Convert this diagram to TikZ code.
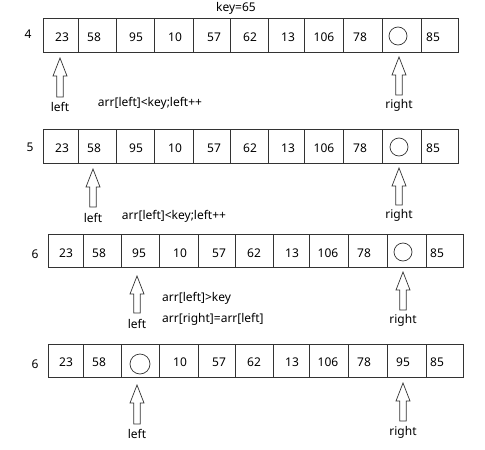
\documentclass[tikz,border=0pt]{standalone}
\usepackage{fontspec}
\setmainfont{Noto Sans}
\newcommand{\hollowup}[3]{%
  \draw[ptr] (#1,#2) -- (#1+7,#2+18) -- (#1+3.3,#2+18) -- (#1+3.3,#3)
    -- (#1-3.3,#3) -- (#1-3.3,#2+18) -- (#1-7,#2+18) -- cycle;}
\begin{document}
\begin{tikzpicture}[x=1pt,y=-1pt,
  cell/.style={draw=black!80, line width=0.8pt, minimum height=34, inner sep=0, anchor=west},
  val/.style={font=\fontsize{12}{14}\selectfont, inner sep=0},
  lbl/.style={font=\fontsize{12}{14}\selectfont, inner sep=0},
  ptr/.style={draw=black!80, line width=0.7pt, fill=white, line join=miter},
  hole/.style={draw=black!80, line width=0.7pt, circle, minimum size=18, inner sep=0}]
\useasboundingbox (0,0) rectangle (485,450);

\node[lbl] (key) at (236,8) {key=65};

% ---------- row 1 ----------
\node[lbl] (n1) at (28,34) {4};
\foreach \l/\r [count=\i] in {43/78,78/116,116/154,154/193,193/230,230/268,268/304,304/343,343/382,382/421,421/458}
  \node[cell, minimum width={\r-\l}] (a\i) at (\l,35) {};
\foreach \t/\x [count=\i] in {23/62,58/94,95/136,10/175,57/214,62/250,13/288,106/324,78/360,85/433}
  \node[val] (av\i) at (\x,37) {\t};
\node[hole] (ah) at (398,36) {};
\hollowup{60}{58}{97}
\hollowup{399}{57}{95}
\node[lbl] (al) at (60,107) {left};
\node[lbl] (ar) at (399,105) {right};
\node[lbl] (ac) at (150,103) {arr[left]<key;left++};

% ---------- row 2 ----------
\node[lbl] (n2) at (30,147) {5};
\foreach \l/\r [count=\i] in {43/78,78/116,116/154,154/193,193/230,230/268,268/304,304/343,343/382,382/421,421/458}
  \node[cell, minimum width={\r-\l}] (b\i) at (\l,146) {};
\foreach \t/\x [count=\i] in {23/62,58/94,95/136,10/175,57/214,62/250,13/288,106/324,78/360,85/433}
  \node[val] (bv\i) at (\x,148) {\t};
\node[hole] (bh) at (399,147) {};
\hollowup{93}{169}{207}
\hollowup{399}{168}{205}
\node[lbl] (bl) at (93,218) {left};
\node[lbl] (br) at (399,215) {right};
\node[lbl] (bc) at (174,216) {arr[left]<key;left++};

% ---------- row 3 ----------
\node[lbl] (n3) at (35,254) {6};
\foreach \l/\r [count=\i] in {47.5/82.5,82.5/120.5,120.5/158.5,158.5/197.5,197.5/234.5,234.5/272.5,272.5/308.5,308.5/347.5,347.5/386.5,386.5/425.5,425.5/462.5}
  \node[cell, minimum width={\r-\l}, minimum height=33] (c\i) at (\l,250.5) {};
\foreach \t/\x [count=\i] in {23/66,58/99,95/139,10/180,57/219,62/254,13/292,106/328,78/364,85/437}
  \node[val] (cv\i) at (\x,253) {\t};
\node[hole] (ch) at (403,252) {};
\hollowup{137}{276}{313}
\hollowup{403}{272}{310}
\node[lbl] (cl) at (137,324) {left};
\node[lbl] (cr) at (403,320) {right};
\node[lbl, anchor=west] (cc1) at (162,298) {arr[left]>key};
\node[lbl, anchor=west] (cc2) at (162,319) {arr[right]=arr[left]};

% ---------- row 4 ----------
\node[lbl] (n4) at (35,364) {6};
\foreach \l/\r [count=\i] in {47.5/82.5,82.5/120.5,120.5/158.5,158.5/197.5,197.5/234.5,234.5/272.5,272.5/308.5,308.5/347.5,347.5/386.5,386.5/425.5,425.5/462.5}
  \node[cell, minimum width={\r-\l}, minimum height=33] (d\i) at (\l,360.5) {};
\foreach \t/\x [count=\i] in {23/66,58/99,10/180,57/219,62/254,13/292,106/328,78/364,95/403,85/437}
  \node[val] (dv\i) at (\x,362) {\t};
\node[hole, minimum size=20] (dh) at (140,364) {};
\hollowup{137}{385}{424}
\hollowup{403}{383}{421}
\node[lbl] (dl) at (137,434) {left};
\node[lbl] (dr) at (403,432) {right};
\end{tikzpicture}
\end{document}
